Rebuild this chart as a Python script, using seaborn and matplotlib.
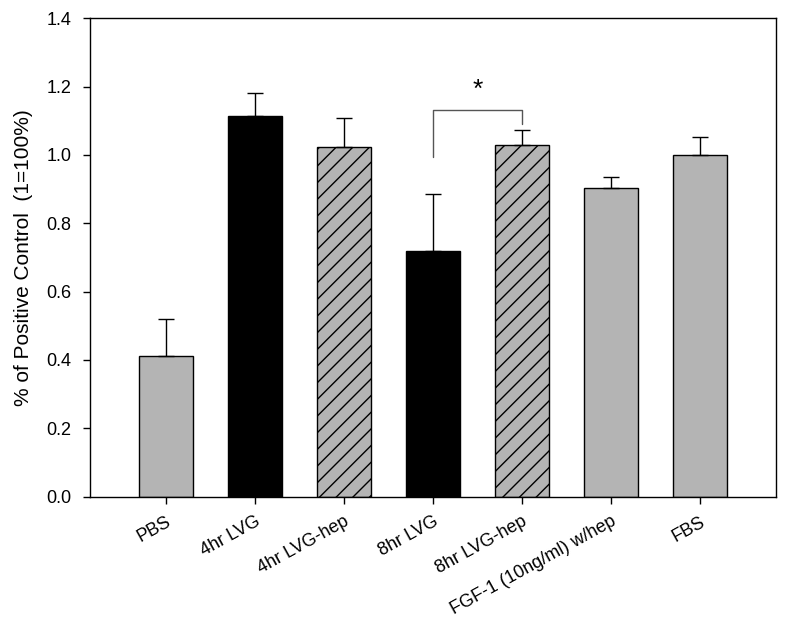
import numpy as np
import pandas as pd
import matplotlib
matplotlib.use("Agg")
import matplotlib.pyplot as plt
import seaborn as sns

# data
groups = ["PBS", "4hr LVG", "4hr LVG-hep", "8hr LVG", "8hr LVG-hep",
          "FGF-1 (10ng/ml) w/hep", "FBS"]
means = [0.41, 1.115, 1.022, 0.718, 1.03, 0.902, 1.0]
errs = [0.11, 0.065, 0.087, 0.167, 0.043, 0.033, 0.053]
fills = ["#b4b4b4", "#000000", "#b4b4b4", "#000000", "#b4b4b4", "#b4b4b4", "#b4b4b4"]
hatches = ["", "", "//", "", "//", "", ""]
yticks = [0.0, 0.2, 0.4, 0.6, 0.8, 1.0, 1.2, 1.4]

sns.set_style("white")
plt.rcParams["font.family"] = ["Liberation Sans", "DejaVu Sans"]
plt.rcParams["hatch.linewidth"] = 1.0
plt.rcParams["text.color"] = "black"
plt.rcParams["xtick.color"] = "black"
plt.rcParams["ytick.color"] = "black"
plt.rcParams["axes.labelcolor"] = "black"

df = pd.DataFrame({"group": groups, "mean": means})

fig = plt.figure(figsize=(7.87, 6.27), dpi=100)
ax = fig.add_axes([0.114, 0.208, 0.872, 0.763])

sns.barplot(data=df, x="group", y="mean", hue="group", palette=fills,
            legend=False, width=0.6, edgecolor="black", linewidth=1.0,
            saturation=1, ax=ax)
for bar, h in zip(ax.patches, hatches):
    bar.set_hatch(h)

# upper error bars only
x = np.arange(len(groups))
ax.errorbar(x, means, yerr=[np.zeros(len(errs)), errs], fmt="none",
            ecolor="black", elinewidth=1.0, capsize=5.5, capthick=1.0, zorder=3)

# significance bracket between 8hr LVG and 8hr LVG-hep
left_y, right_y, top_y = 0.995, 1.09, 1.13
ax.plot([3, 3, 4, 4], [left_y, top_y, top_y, right_y], color="#555555", lw=1.0)
ax.text(3.5, 1.155, "*", ha="center", va="bottom", fontsize=19)

ax.set_ylim(0, 1.4)
ax.set_xlim(-0.855, 6.855)
ax.set_yticks(yticks)
ax.set_yticklabels([f"{t:.1f}" for t in yticks], fontsize=13)
ax.set_xlabel("")
ax.set_ylabel("% of Positive Control  (1=100%)", fontsize=15, labelpad=10)
ax.set_xticks(x)
ax.set_xticklabels(groups, rotation=29, ha="right", rotation_mode="anchor", fontsize=13)
ax.tick_params(axis="both", direction="out", length=5, width=1, color="black",
               bottom=True, left=True)
ax.tick_params(axis="x", pad=7)
ax.tick_params(axis="y", pad=8)
for s in ax.spines.values():
    s.set_color("black")
    s.set_linewidth(1.0)

fig.savefig("out.png", dpi=100)
